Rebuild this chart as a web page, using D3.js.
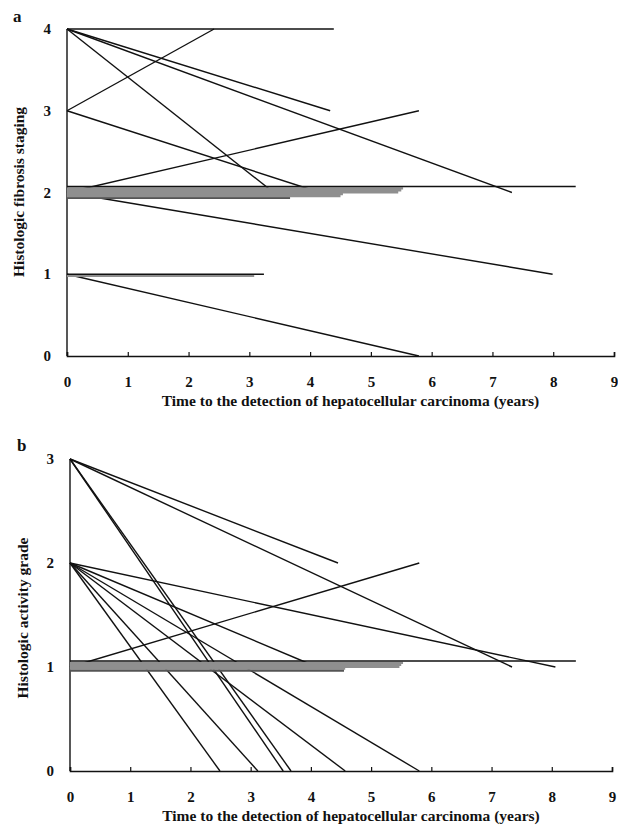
<!DOCTYPE html>
<html>
<head>
<meta charset="utf-8">
<script src="https://cdn.jsdelivr.net/npm/d3@7"></script>
<style>
  body { margin: 0; background: #fff; }
  svg { display: block; }
  text { font-family: "Liberation Serif", "Times New Roman", serif; font-weight: bold; fill: #111; }
</style>
</head>
<body>
<svg width="618" height="828"></svg>
<script>
// Panel a: fibrosis stage at first biopsy -> at HCC detection
const fibrosisFrom  = [4, 3, 4, 4, 4, 3, 2, 2, 1, 1, 1, 2, 2, 2, 2, 2, 2, 2];
const fibrosisTo    = [4, 4, 3, 2, 2, 2, 3, 1, 0, 1, 1, 2, 2, 2, 2, 2, 2, 2];
const fibrosisYears = [4.39, 2.42, 4.33, 7.32, 3.40, 4.16, 5.79, 7.99, 5.79, 3.24, 3.08,
                       8.37, 5.53, 5.50, 5.45, 4.54, 4.50, 3.67];
const fibrosisTicks = [0, 1, 2, 3, 4];

// Panel b: activity grade at first biopsy -> at HCC detection
const activityFrom  = [3, 3, 3, 3, 2, 2, 2, 2, 2, 2, 1, 1, 1, 1, 1, 1, 1];
const activityTo    = [2, 1, 0, 0, 1, 1, 0, 0, 0, 0, 2, 1, 1, 1, 1, 1, 1];
const activityYears = [4.45, 7.34, 3.54, 3.67, 8.06, 4.10, 2.49, 3.12, 4.57, 5.80, 5.80,
                       8.40, 5.53, 5.50, 5.47, 4.57, 4.55];
const activityTicks = [0, 1, 2, 3];

const yearTicks = d3.range(0, 10);
const xTitle = "Time to the detection of hepatocellular carcinoma (years)";

const svg = d3.select("svg");

function drawPanel(opts) {
    const g = svg.append("g");
    const x = d3.scaleLinear().domain([0, 9]).range([opts.x0, opts.x1]);
    const y = d3.scaleLinear().domain([0, d3.max(opts.ticks)]).range([opts.yBottom, opts.yTop]);

    const rows = opts.from.map((f, i) => ({ from: f, to: opts.to[i], years: opts.years[i] }));

    // unchanged scores are stacked slightly so they read as a band
    const flat = d3.group(rows.filter(d => d.from === d.to), d => d.from);
    flat.forEach(list => {
        list.sort((a, b) => b.years - a.years);
        list.forEach((d, i) => {
            d.off = list.length > 2 ? -6 + i * 1.9 : i * 1.5;
            d.rank = i;
            d.n = list.length;
        });
    });

    // axes
    g.append("line")
        .attr("x1", x(0)).attr("x2", x(0))
        .attr("y1", y(d3.max(opts.ticks))).attr("y2", y(0))
        .attr("stroke", "#111").attr("stroke-width", 1.4);
    const xAxis = g.append("g")
        .attr("transform", `translate(0,${y(0)})`)
        .call(d3.axisBottom(x).tickValues(yearTicks).tickSize(-4).tickPadding(20));
    xAxis.select(".domain").attr("stroke", "#111").attr("stroke-width", 1.6);
    xAxis.selectAll(".tick line").attr("stroke", "#111").attr("stroke-width", 1.2);
    xAxis.selectAll(".tick text")
        .style("font-family", "Liberation Serif, serif")
        .style("font-weight", "bold").style("font-size", "15px");

    g.selectAll(".ylab")
        .data(opts.ticks)
        .enter().append("text")
        .attr("x", opts.x0 - 16)
        .attr("y", d => y(d) + 5)
        .attr("text-anchor", "end")
        .style("font-size", "15px")
        .text(d => d);

    // changing scores
    g.selectAll(".move")
        .data(rows.filter(d => d.from !== d.to))
        .enter().append("line")
        .attr("x1", x(0)).attr("y1", d => y(d.from))
        .attr("x2", d => x(d.years)).attr("y2", d => y(d.to))
        .attr("stroke", "#111").attr("stroke-width", 1.4);

    // unchanged scores
    const flatRows = rows.filter(d => d.from === d.to).sort((a, b) => b.rank - a.rank);
    g.selectAll(".flat")
        .data(flatRows)
        .enter().append("line")
        .attr("x1", x(0)).attr("x2", d => x(d.years))
        .attr("y1", d => y(d.from) + d.off).attr("y2", d => y(d.from) + d.off)
        .attr("stroke", d => d.rank === 0 ? "#111" : (d.rank === d.n - 1 && d.n > 2 ? "#555" : "#8f8f8f"))
        .attr("stroke-width", d => d.rank === 0 ? 1.6 : 2.4);

    g.append("text")
        .attr("x", (opts.x0 + opts.x1) / 2 + 10)
        .attr("y", y(0) + 50)
        .attr("text-anchor", "middle")
        .style("font-size", "15.5px")
        .text(xTitle);

    g.append("text")
        .attr("transform", `translate(${opts.titleX},${opts.titleY}) rotate(-90)`)
        .attr("text-anchor", "middle")
        .style("font-size", "15.5px")
        .text(opts.yTitle);

    g.append("text")
        .attr("x", opts.letterX).attr("y", opts.letterY)
        .style("font-size", "17px")
        .text(opts.letter);
}

drawPanel({
    from: fibrosisFrom, to: fibrosisTo, years: fibrosisYears, ticks: fibrosisTicks,
    x0: 67, x1: 614, yTop: 29, yBottom: 356,
    yTitle: "Histologic fibrosis staging", titleX: 24, titleY: 192,
    letter: "a", letterX: 13, letterY: 22
});

drawPanel({
    from: activityFrom, to: activityTo, years: activityYears, ticks: activityTicks,
    x0: 70, x1: 612, yTop: 459, yBottom: 771,
    yTitle: "Histologic activity grade", titleX: 28, titleY: 618,
    letter: "b", letterX: 17, letterY: 451
});
</script>
</body>
</html>
